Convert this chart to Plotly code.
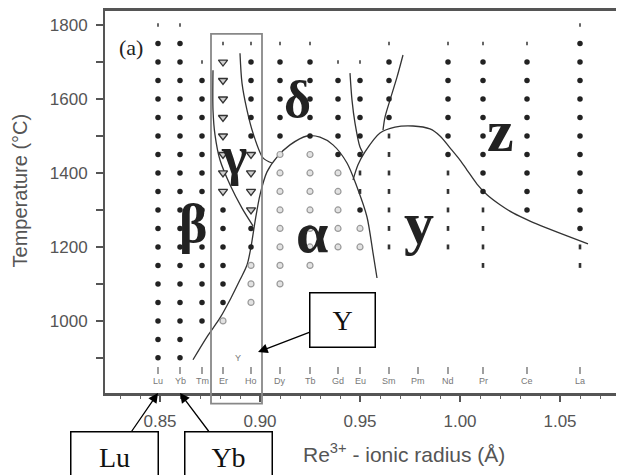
import plotly.graph_objects as go

# ---------------- data ----------------
elements = ["Lu", "Yb", "Tm", "Er", "Ho", "Dy", "Tb", "Gd", "Eu", "Sm", "Pm", "Nd", "Pr", "Ce", "La"]
radius = [0.849, 0.860, 0.871, 0.8815, 0.8955, 0.910, 0.925, 0.939, 0.950, 0.9645, 0.979, 0.994, 1.0115, 1.0335, 1.060]

# small marks at the top of each column
top_marks = [("Lu", [1800]), ("Yb", [1800]), ("Tm", [1700]), ("Er", [1750]), ("Ho", [1750]),
             ("Dy", [1750]), ("Tb", [1750]), ("Gd", [1700]), ("Eu", [1700]), ("Sm", [1750]),
             ("Nd", [1750]), ("Pr", [1750]), ("Ce", [1750]), ("La", [1800])]
# filled dots
dot_pts = [
    ("Lu", [1750, 1700, 1650, 1600, 1550, 1500, 1450, 1400, 1350, 1300, 1250, 1200, 1150, 1100, 1050, 1000, 950, 900]),
    ("Yb", [1750, 1700, 1650, 1600, 1550, 1500, 1450, 1400, 1350, 1300, 1250, 1200, 1150, 1100, 1050, 1000, 950, 900]),
    ("Tm", [1650, 1600, 1550, 1500, 1450, 1400, 1350, 1300, 1250, 1200, 1150, 1100, 1050, 1000]),
    ("Er", [1300, 1250, 1200, 1150, 1100, 1050]),
    ("Ho", [1700, 1650, 1600, 1550, 1500, 1250, 1200]),
    ("Dy", [1700, 1650, 1600, 1550, 1500]),
    ("Tb", [1700, 1650, 1600, 1550, 1500]),
    ("Gd", [1650, 1600, 1550, 1500, 1450]),
    ("Eu", [1650, 1600, 1550, 1500, 1450, 1300]),
    ("Sm", [1700, 1650, 1600, 1550]),
    ("Nd", [1700, 1650, 1600, 1550, 1500, 1450]),
    ("Pr", [1700, 1650, 1600, 1550, 1500, 1450, 1400, 1350]),
    ("Ce", [1700, 1650, 1600, 1550, 1500, 1450, 1400, 1350, 1300]),
    ("La", [1750, 1700, 1650, 1600, 1550, 1500, 1450, 1400, 1350, 1300, 1250]),
]
# open triangles (gamma)
tri_pts = [("Er", [1700, 1650, 1600, 1550, 1500, 1450, 1400, 1350]),
           ("Ho", [1450, 1400, 1350, 1300])]
# open grey circles (alpha)
circ_pts = [("Er", [1000]), ("Ho", [1150, 1100, 1050]),
            ("Dy", [1450, 1400, 1350, 1300, 1250, 1200, 1150, 1100]),
            ("Tb", [1450, 1400, 1350, 1300, 1250, 1200, 1150]),
            ("Gd", [1400, 1350, 1300, 1250, 1200]),
            ("Eu", [1250, 1200])]
# vertical dashes (y phase)
dash_pts = [("Eu", [1400, 1350]),
            ("Sm", [1500, 1450, 1400, 1350, 1300, 1250, 1200]),
            ("Nd", [1400, 1350, 1300, 1250, 1200]),
            ("Pr", [1300, 1250, 1200, 1150]),
            ("La", [1200, 1150])]

# phase boundaries
curveA_r = [0.8765, 0.8765, 0.8775, 0.880, 0.885, 0.891, 0.8965]
curveA_T = [1678, 1570, 1503, 1435, 1368, 1305, 1257]
curveB_r = [0.890, 0.891, 0.8935, 0.8965, 0.9015, 0.906]
curveB_T = [1724, 1643, 1570, 1508, 1441, 1427]
curveC_r = [0.8665, 0.8735, 0.880, 0.8855, 0.890, 0.8935, 0.8955, 0.8975, 0.900, 0.9035, 0.9085,
            0.915, 0.9235, 0.930, 0.9365, 0.9435, 0.9485, 0.9535, 0.9565, 0.9585]
curveC_T = [895, 957, 1008, 1062, 1111, 1151, 1200, 1268, 1341, 1403, 1443,
            1476, 1500, 1497, 1476, 1427, 1362, 1281, 1184, 1116]
curveD_r = [0.945, 0.946, 0.9475, 0.950, 0.9515]
curveD_T = [1670, 1597, 1535, 1470, 1454]
curveE_r = [0.9465, 0.949, 0.9525, 0.960, 0.9675, 0.9765, 0.985, 0.990, 0.995, 1.000, 1.0035,
            1.0085, 1.0135, 1.020, 1.0265, 1.035, 1.0435, 1.0535, 1.064]
curveE_T = [1381, 1422, 1457, 1508, 1524, 1527, 1519, 1500, 1468, 1435, 1408,
            1370, 1341, 1314, 1292, 1270, 1251, 1230, 1208]
curveF_r = [0.9715, 0.9685, 0.965, 0.9625, 0.9615]
curveF_T = [1719, 1659, 1597, 1551, 1516]

x_range = [0.8225, 1.082]
y_range = [805, 1838]
y_ticks = [1000, 1200, 1400, 1600, 1800]
x_ticks = [0.85, 0.90, 0.95, 1.00, 1.05]
x_ticktext = ["0.85", "0.90", "0.95", "1.00", "1.05"]
x_title = "Re<sup>3+</sup> - ionic radius (Å)"
y_title = "Temperature (°C)"

rad = dict(zip(elements, radius))


def expand(pts):
    xs, ys = [], []
    for el, temps in pts:
        for t in temps:
            xs.append(rad[el])
            ys.append(t)
    return xs, ys


def paper_y(t):
    return (t - y_range[0]) / (y_range[1] - y_range[0])


fig = go.Figure()

# element marker ticks just above the axis
fig.add_trace(go.Scatter(x=radius, y=[866] * len(radius), mode="markers",
                         marker=dict(symbol="line-ns", size=5, line=dict(width=1.6, color="#888")),
                         hoverinfo="skip", showlegend=False))

curve_style = dict(color="#333", width=1.3, shape="spline", smoothing=0.8)
for cr, ct in [(curveA_r, curveA_T), (curveB_r, curveB_T), (curveC_r, curveC_T),
               (curveD_r, curveD_T), (curveE_r, curveE_T), (curveF_r, curveF_T)]:
    fig.add_trace(go.Scatter(x=cr, y=ct, mode="lines", line=curve_style,
                             hoverinfo="skip", showlegend=False))

xs, ys = expand(top_marks)
fig.add_trace(go.Scatter(x=xs, y=ys, mode="markers",
                         marker=dict(symbol="line-ns", size=2.5, line=dict(width=2, color="#666")),
                         showlegend=False))
xs, ys = expand(dot_pts)
fig.add_trace(go.Scatter(x=xs, y=ys, mode="markers",
                         marker=dict(symbol="circle", size=5.5, color="#222", line=dict(width=0)),
                         showlegend=False))
xs, ys = expand(tri_pts)
fig.add_trace(go.Scatter(x=xs, y=ys, mode="markers",
                         marker=dict(symbol="triangle-down", size=8, color="#cfcfcf",
                                     line=dict(width=1.3, color="#333")),
                         showlegend=False))
xs, ys = expand(circ_pts)
fig.add_trace(go.Scatter(x=xs, y=ys, mode="markers",
                         marker=dict(symbol="circle", size=6, color="#e2e2e2",
                                     line=dict(width=1.2, color="#9a9a9a")),
                         showlegend=False))
xs, ys = expand(dash_pts)
fig.add_trace(go.Scatter(x=xs, y=ys, mode="markers",
                         marker=dict(symbol="line-ns", size=3.5, line=dict(width=2.6, color="#333")),
                         showlegend=False))

annotations = []
# element labels
for el, r in zip(elements, radius):
    annotations.append(dict(x=r, y=838, xref="x", yref="y", text=el, showarrow=False,
                            font=dict(family="Arial", size=9, color="#777")))
annotations.append(dict(x=0.889, y=901, xref="x", yref="y", text="Y", showarrow=False,
                        font=dict(family="Arial", size=9, color="#777")))

serif = "Liberation Serif"
greek = [("β", 0.8665, 1262, 54), ("γ", 0.887, 1446, 54),
         ("δ", 0.9185, 1600, 52), ("α", 0.926, 1240, 58),
         ("y", 0.9795, 1264, 60), ("z", 1.020, 1514, 60)]
for txt, gx, gy, fs in greek:
    annotations.append(dict(x=gx, y=gy, xref="x", yref="y",
                            text="<b>%s</b>" % txt, showarrow=False,
                            font=dict(family=serif, size=fs, color="#222")))
annotations.append(dict(x=0.8355, y=1738, xref="x", yref="y", text="(a)", showarrow=False,
                        font=dict(family=serif, size=22, color="#222")))

# axis titles
annotations.append(dict(x=0.576, y=-0.157, xref="paper", yref="paper", text=x_title,
                        showarrow=False, xanchor="center", yanchor="middle",
                        font=dict(family="Arial", size=21, color="#555")))
annotations.append(dict(x=-0.164, y=0.53, xref="paper", yref="paper", text=y_title,
                        showarrow=False, textangle=-90, xanchor="center", yanchor="middle",
                        font=dict(family="Arial", size=20, color="#555")))

box_common = dict(showarrow=True, arrowhead=2, arrowsize=1.5, arrowwidth=1.3, arrowcolor="#000",
                  bordercolor="#000", borderwidth=1.5, borderpad=0, bgcolor="#fff",
                  axref="pixel", ayref="pixel", standoff=0,
                  font=dict(family=serif, size=28, color="#111"))
annotations.append(dict(x=rad["Lu"], y=0, xref="x", yref="paper", text="Lu",
                        ax=-44, ay=64, width=86, height=50, **box_common))
annotations.append(dict(x=rad["Yb"], y=0, xref="x", yref="paper", text="Yb",
                        ax=48, ay=64, width=86, height=50, **box_common))
annotations.append(dict(x=0.899, y=916, xref="x", yref="y", text="Y",
                        ax=84, ay=-32, width=64, height=53, **box_common))

shapes = [dict(type="rect", xref="x", yref="paper", x0=0.8755, x1=0.901,
               y0=paper_y(776), y1=paper_y(1776),
               line=dict(color="#888", width=1.8), fillcolor="rgba(0,0,0,0)")]

# the page body adds an 8 px offset, so the figure is sized to fill the rest of the window
fig.update_layout(
    width=616, height=467,
    margin=dict(l=97, r=0, t=3, b=82, autoexpand=False),
    paper_bgcolor="white", plot_bgcolor="white",
    font=dict(family="Arial", color="#555"),
    annotations=annotations, shapes=shapes,
    xaxis=dict(range=x_range, tickvals=x_ticks, ticktext=x_ticktext, automargin=False,
               ticks="outside", ticklen=6, tickwidth=1.5, tickcolor="#555",
               minor=dict(dtick=0.01, tick0=0.85, ticks="outside", ticklen=3, tickwidth=1.2, tickcolor="#666"),
               showline=True, linewidth=2.5, linecolor="#555", mirror=True,
               showgrid=False, zeroline=False, tickfont=dict(size=17, color="#555"),
               ticklabelstandoff=5),
    yaxis=dict(range=y_range, tickvals=y_ticks, automargin=False,
               ticks="outside", ticklen=7, tickwidth=1.5, tickcolor="#555",
               minor=dict(dtick=100, tick0=1000, ticks="outside", ticklen=7, tickwidth=1.5, tickcolor="#555"),
               showline=True, linewidth=2, linecolor="#555", mirror=True,
               showgrid=False, zeroline=False, tickfont=dict(size=17, color="#555"),
               ticklabelstandoff=5),
)

fig.write_html("out.html")
